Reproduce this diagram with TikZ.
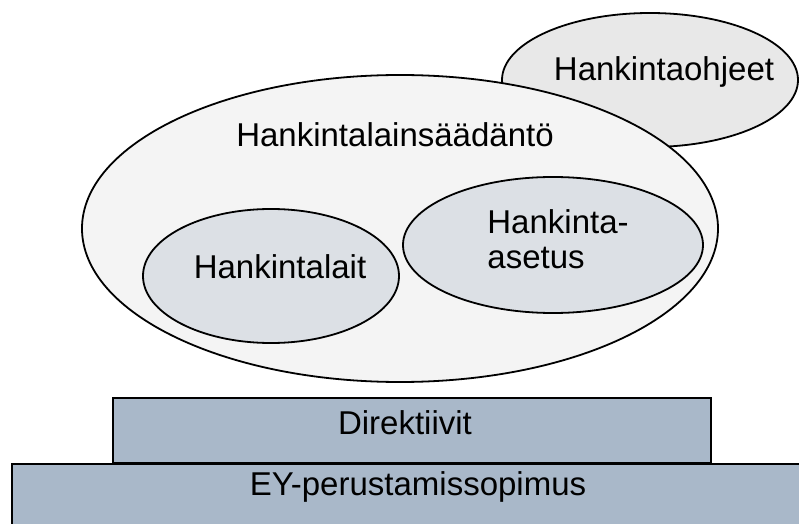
\documentclass[tikz,border=0pt]{standalone}
\usepackage{fontspec}
\setmainfont{Liberation Sans}
\usepackage{xcolor}
\usetikzlibrary{shapes.geometric,positioning}
\definecolor{bigfill}{HTML}{F4F4F4}
\definecolor{innerfill}{HTML}{DCE0E5}
\definecolor{guidefill}{HTML}{E8E8E8}
\definecolor{basefill}{HTML}{A9B8C9}

\begin{document}
\begin{tikzpicture}[x=0.5pt,y=-0.5pt,
  oval/.style={ellipse,draw=black,line width=0.9pt,inner sep=0pt},
  slab/.style={rectangle,draw=black,line width=0.9pt,fill=basefill,inner sep=0pt},
  txt/.style={font=\fontsize{16.5}{17.5}\selectfont,inner sep=0pt}]
\clip (0,0) rectangle (799,524);
\fill[white] (0,0) rectangle (799,524);
% ellipses
\node[oval,fill=guidefill,minimum width=148pt,minimum height=67pt] (ohjeet) at (650,80) {};
\node[oval,fill=bigfill,minimum width=318pt,minimum height=153.5pt] (saadanto) at (400,228.5) {};
\node[oval,fill=innerfill,minimum width=128pt,minimum height=67pt] (lait) at (271,276) {};
\node[oval,fill=innerfill,minimum width=150pt,minimum height=68pt] (asetus) at (553,245) {};
\node[txt] (ohjeettext) at ([shift={(7pt,4pt)}]ohjeet.center) {Hankintaohjeet};
\node[txt] (saadantotext) at ([shift={(-2.5pt,46.75pt)}]saadanto.center) {Hankintalainsäädäntö};
\node[txt] (laittext) at ([shift={(4.5pt,4.5pt)}]lait.center) {Hankintalait};
\node[txt,align=left,anchor=west] (asetustext) at ([shift={(-33pt,3pt)}]asetus.center) {Hankinta-\\asetus};
% base slabs
\node[slab,anchor=north west,minimum width=299pt,minimum height=32.5pt] (direktiivit) at (112,397) {};
\node[slab,anchor=north west,minimum width=420pt,minimum height=45pt] (ey) at (11,463) {};
\node[txt] (direktiivittext) at (405,423) {Direktiivit};
\node[txt] (eytext) at (418,487) {EY-perustamissopimus};
\end{tikzpicture}
\end{document}
